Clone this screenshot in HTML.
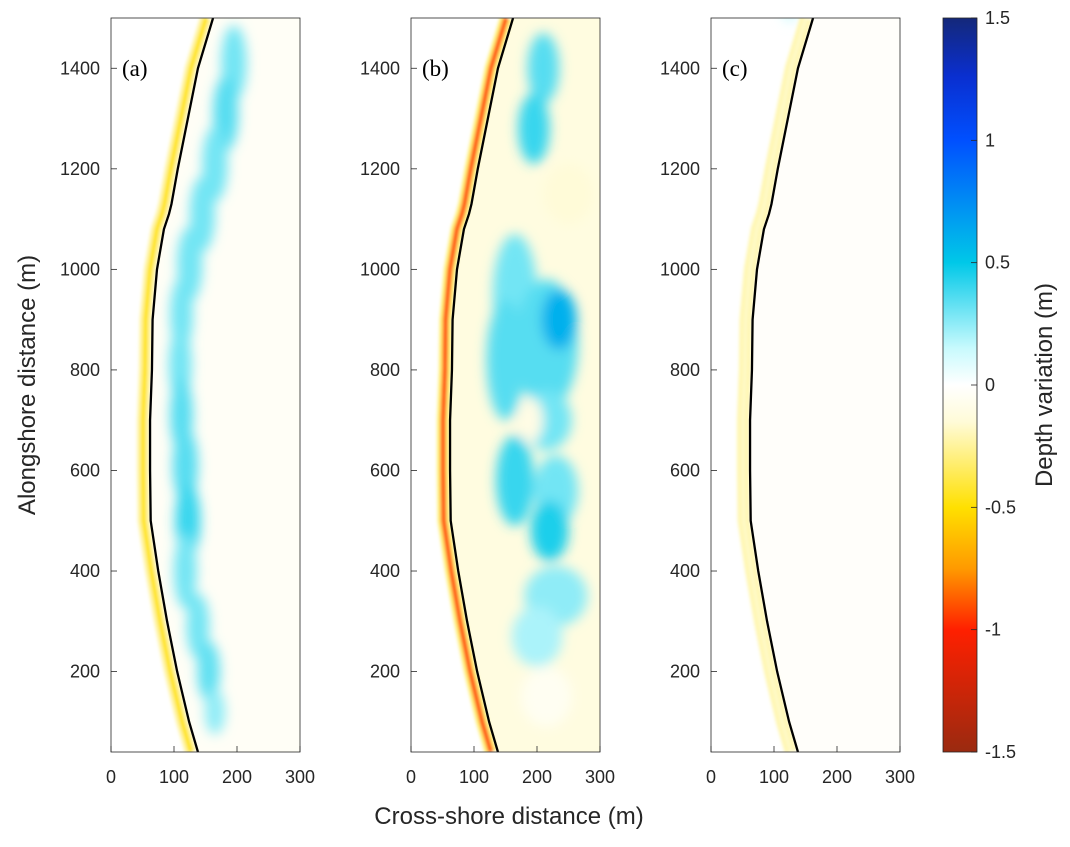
<!DOCTYPE html>
<html><head><meta charset="utf-8">
<style>
body{margin:0;background:#fff;}
svg text{font-family:"Liberation Sans",sans-serif;fill:#262626;}
</style></head>
<body>
<svg id="fig" width="1070" height="842" viewBox="0 0 1070 842" xmlns="http://www.w3.org/2000/svg">
<defs>
<filter id="blur" x="-50%" y="-50%" width="200%" height="200%"><feGaussianBlur stdDeviation="6"/></filter>
<filter id="blur2" x="-50%" y="-50%" width="200%" height="200%"><feGaussianBlur stdDeviation="1.5"/></filter>
<linearGradient id="cbar" x1="0" y1="0" x2="0" y2="1">
<stop offset="0" stop-color="#14287a"/>
<stop offset="0.08" stop-color="#0a2fd0"/>
<stop offset="0.167" stop-color="#0050ff"/>
<stop offset="0.333" stop-color="#00c8e8"/>
<stop offset="0.45" stop-color="#c8fafd"/>
<stop offset="0.5" stop-color="#ffffff"/>
<stop offset="0.55" stop-color="#fffbd8"/>
<stop offset="0.667" stop-color="#ffe000"/>
<stop offset="0.75" stop-color="#ff9a00"/>
<stop offset="0.833" stop-color="#ff2000"/>
<stop offset="1" stop-color="#9a2a10"/>
</linearGradient>
</defs>
<g id="plots"></g>
<g id="axes"></g>
<rect x="943" y="18" width="34" height="734" fill="url(#cbar)" stroke="#262626" stroke-width="0.8"/>
<g id="cbticks"></g>
<text x="1052" y="385" font-size="24" text-anchor="middle" transform="rotate(-90 1052 385)">Depth variation (m)</text>
<text x="35" y="385" font-size="24" text-anchor="middle" transform="rotate(-90 35 385)">Alongshore distance (m)</text>
<text x="509" y="824" font-size="24" text-anchor="middle">Cross-shore distance (m)</text>
</svg>
<script>
const shoreY=[40,100,200,300,400,500,600,700,800,900,1000,1080,1110,1130,1200,1300,1400,1500];
const shoreX=[138,124,105,89,75,63,62,62,65,66,73,84,92,96,106,122,138,162];
const panelLabels=['(a)','(b)','(c)'];
const xTicks=[0,100,200,300];
const yTicks=[200,400,600,800,1000,1200,1400];
const cbTicks=[1.5,1,0.5,0,-0.5,-1,-1.5];
const bgValues=[-0.035,-0.12,-0.02];
const stripValues=[-0.45,-0.9,-0.18];
// blobs: panel, cross-shore, alongshore, rx(m), ry(m), depth value
const blobP=[0,0,0,0,0,0,0,0,0,0,0,0,0,0, 1,1,1,1,1,1,1,1,1,1,1,1,1,1,1, 2,2,2,2];
const blobX=[195,182,165,145,125,112,110,112,118,122,118,138,155,165, 210,195,165,215,235,150,215,190,230,165,220,230,200,215,250, 125,125,125,130];
const blobY=[1410,1310,1210,1110,1010,910,810,710,610,500,400,290,200,120, 1400,1280,950,850,900,820,700,700,560,580,480,350,270,150,1150];
const blobRX=[20,20,20,20,20,18,18,18,20,20,18,18,18,16, 25,25,35,50,28,30,40,20,35,30,30,50,40,40,40, 13,15,12,10];
const blobRY=[75,75,75,75,75,75,75,75,75,75,75,65,60,45, 70,70,120,130,60,120,60,45,70,90,60,60,60,60,60, 45,45,35,25];
const blobV=[0.3,0.35,0.3,0.3,0.3,0.3,0.3,0.35,0.35,0.4,0.3,0.3,0.33,0.25, 0.35,0.4,0.3,0.35,0.6,0.35,0.3,-0.1,0.3,0.4,0.45,0.25,0.2,-0.05,-0.15, 0.12,0.12,0.12,0.1];

const NS='http://www.w3.org/2000/svg';
const panelX0=[111,411,711], PW=189, Y0=18, PH=734;
const xs=(p,m)=>panelX0[p]+m*PW/300;
const ys=m=>752-(m-40)*PH/1460;
const cbStops=[[1.5,[20,40,122]],[1,[0,80,255]],[0.5,[0,200,232]],[0.15,[200,250,253]],[0,[255,255,255]],[-0.15,[255,251,216]],[-0.5,[255,224,0]],[-0.75,[255,154,0]],[-1,[255,32,0]],[-1.5,[154,42,16]]];
function cmap(v){for(let i=0;i<cbStops.length-1;i++){const a=cbStops[i],b=cbStops[i+1];if(v<=a[0]&&v>=b[0]){const t=(a[0]-v)/(a[0]-b[0]);const c=a[1].map((x,k)=>Math.round(x+(b[1][k]-x)*t));return `rgb(${c})`;}}return v>0?'rgb(20,40,122)':'rgb(154,42,16)';}
function mk(tag,attrs,parent){const e=document.createElementNS(NS,tag);for(const k in attrs)e.setAttribute(k,attrs[k]);parent.appendChild(e);return e;}
const plots=document.getElementById('plots'),axes=document.getElementById('axes');
const defs=document.querySelector('defs');
for(let p=0;p<3;p++){
  const cp=mk('clipPath',{id:'clip'+p},defs);
  mk('rect',{x:panelX0[p],y:Y0,width:PW,height:PH},cp);
  const g=mk('g',{'clip-path':`url(#clip${p})`},plots);
  
  
  let d=`M${xs(p,shoreX[0])},${ys(shoreY[0])}`;
  for(let i=1;i<shoreY.length;i++)d+=` L${xs(p,shoreX[i])},${ys(shoreY[i])}`;
  const bg=mk('path',{d:d+` L${panelX0[p]+PW+20},${Y0-20} L${panelX0[p]+PW+20},${Y0+PH+20} Z`,fill:cmap(bgValues[p])},g);
  
  
  const bl=mk('g',{filter:'url(#blur)'},g);
  for(let i=0;i<blobP.length;i++){if(blobP[i]!==p)continue;
    const e=mk('ellipse',{cx:xs(p,blobX[i]),cy:ys(blobY[i]),rx:blobRX[i]*PW/300,ry:blobRY[i]*PH/1460,fill:cmap(blobV[i])},bl);
    
    }
  let sd='';for(let i=0;i<shoreY.length;i++)sd+=(i?' L':'M')+(xs(p,shoreX[i])-7)+','+ys(shoreY[i]);
  const sg=mk('g',{filter:'url(#blur2)'},g);
  mk('path',{d:sd,fill:'none',stroke:cmap(bgValues[p]-0.2),'stroke-width':12},sg);
  const st=mk('path',{d:sd,fill:'none',stroke:cmap(stripValues[p]),'stroke-width':5},sg);
  
  
  let ld='';for(let i=0;i<shoreY.length;i++)ld+=(i?' L':'M')+xs(p,shoreX[i])+','+ys(shoreY[i]);
  const sl=mk('path',{d:ld,fill:'none',stroke:'#000','stroke-width':2.3},g);
  
  
  const fr=mk('rect',{x:panelX0[p],y:Y0,width:PW,height:PH,fill:'none',stroke:'#262626','stroke-width':0.8},axes);
  
  
  const lb=mk('text',{x:panelX0[p]+11,y:76,'font-size':23,style:'font-family:"Liberation Serif",serif;fill:#000'},axes);
  lb.textContent=panelLabels[p];
  
  
  xTicks.forEach(t=>{const x=xs(p,t);
    mk('line',{x1:x,x2:x,y1:752,y2:746,stroke:'#262626','stroke-width':0.8},axes);
    const tx=mk('text',{x:x,y:783,'font-size':18,'text-anchor':'middle'},axes);tx.textContent=t;
    
    });
  yTicks.forEach(t=>{const y=ys(t);
    mk('line',{x1:panelX0[p],x2:panelX0[p]+6,y1:y,y2:y,stroke:'#262626','stroke-width':0.8},axes);
    const tx=mk('text',{x:panelX0[p]-11,y:y+6,'font-size':18,'text-anchor':'end'},axes);tx.textContent=t;
    
    });
}
const cbt=document.getElementById('cbticks');
cbTicks.forEach(t=>{const y=385-t*PH/3;
  mk('line',{x1:971,x2:977,y1:y,y2:y,stroke:'#262626','stroke-width':0.8},cbt);
  const tx=mk('text',{x:985,y:y+6,'font-size':18},cbt);tx.textContent=t;
  
  });
</script>
</body></html>
